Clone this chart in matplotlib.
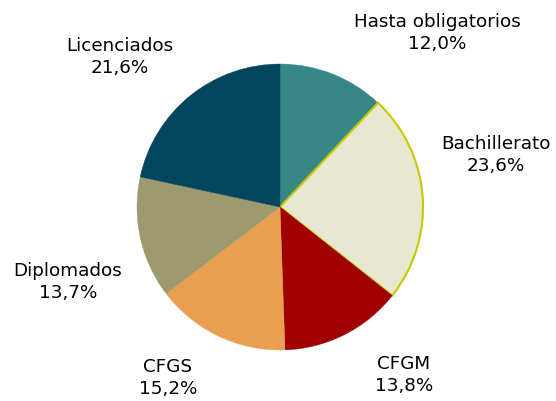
import matplotlib
matplotlib.use('Agg')
import matplotlib.pyplot as plt

categories = ['Hasta obligatorios', 'Bachillerato', 'CFGM', 'CFGS', 'Diplomados', 'Licenciados']
values = [12.0, 23.6, 13.8, 15.2, 13.7, 21.6]
colors = ['#368786', '#E8E8D0', '#A00000', '#E8A050', '#9C9A6E', '#03455C']
edges = ['none', '#C8C800', 'none', 'none', 'none', 'none']

# label centres in pixel space (x from left, y from top)
label_pos = [(437, 33), (496, 155), (404, 375), (168, 378), (68, 282), (120, 57)]

W, H = 556, 401
fig = plt.figure(figsize=(W / 100, H / 100), dpi=100)
ax = fig.add_axes([0, 0, 1, 1])

wedges, _ = ax.pie(values, colors=colors, startangle=90, counterclock=False,
                   center=(280, H - 207), radius=143, frame=True)
for w, ec in zip(wedges, edges):
    if ec != 'none':
        w.set_edgecolor(ec)
        w.set_linewidth(1.5)
    else:
        w.set_edgecolor(w.get_facecolor())
        w.set_linewidth(0.3)
ax.set_xlim(0, W)
ax.set_ylim(0, H)
ax.set_aspect('equal')
ax.axis('off')

for name, v, (x, y) in zip(categories, values, label_pos):
    txt = '{0}\n{1}%'.format(name, ('%.1f' % v).replace('.', ','))
    ax.text(x, H - y, txt, ha='center', va='center', fontsize=13.2,
            linespacing=1.35, color='black')

fig.savefig('out.png', dpi=100)
